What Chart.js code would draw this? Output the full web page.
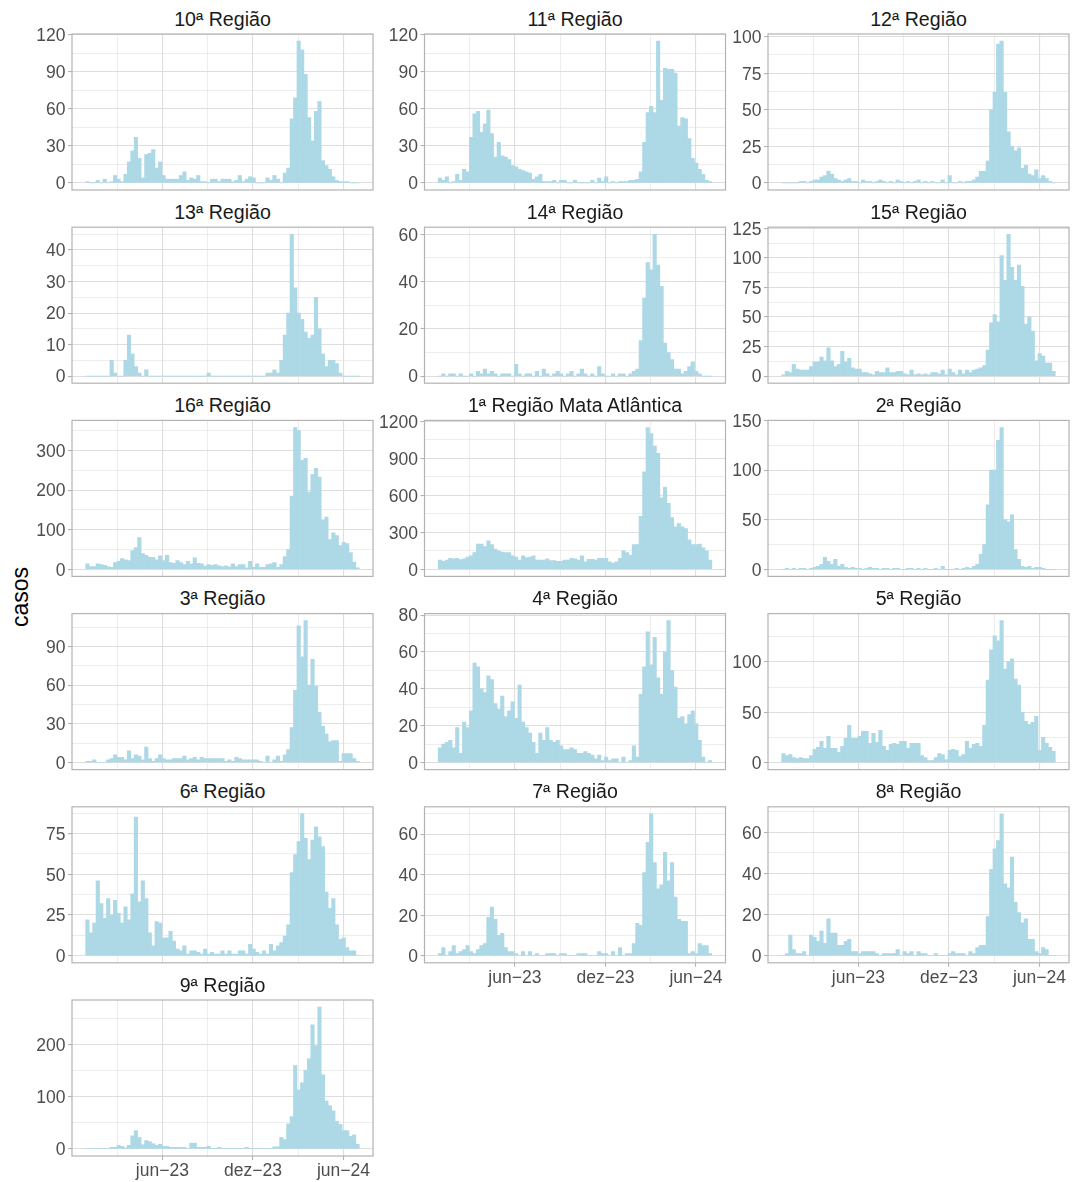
<!DOCTYPE html>
<html>
<head>
<meta charset="utf-8">
<script src="https://cdn.jsdelivr.net/npm/chart.js@4.4.1/dist/chart.umd.min.js"></script>
<style>
body { margin: 0; background: #fff; }
#fig { position: relative; width: 1072px; height: 1182px; background: #fff; font-family: "Liberation Sans", Arial, sans-serif; overflow: hidden; }
.strip { position: absolute; text-align: center; font-size: 19.6px; color: #1a1a1a; white-space: nowrap; }
#fig canvas { position: absolute; }
#ylab { position: absolute; left: 20px; top: 597px; transform: translate(-50%, -50%) rotate(-90deg); font-size: 23px; color: #000; }
</style>
</head>
<body>
<div id="fig"><div id="ylab">casos</div></div>
<script>
// casos semanais por região (79 semanas, a partir de 28/12/2022)
const regioes = ['10ª Região', '11ª Região', '12ª Região', '13ª Região', '14ª Região', '15ª Região',
  '16ª Região', '1ª Região Mata Atlântica', '2ª Região', '3ª Região', '4ª Região', '5ª Região',
  '6ª Região', '7ª Região', '8ª Região', '9ª Região'];

const primeiraSemana = '2022-12-28';
const numSemanas = 79;

const casos10 = [1,0,0,2,0,3,0,1,6,3, 1,7,17,26,37,20,4,23,24,27, 12,17,6,3,3,3,3,6,9,2,
  4,3,6,1,1,0,3,3,1,3, 3,3,1,2,6,1,3,5,4,0, 0,0,4,2,6,3,0,8,12,52,
  69,115,108,88,53,34,58,66,18,14, 11,5,2,1,1,1,0,0,0];
const casos11 = [4,2,5,0,1,7,2,11,9,37, 56,58,41,48,59,40,21,33,22,21, 19,14,13,11,10,9,8,3,5,7,
  1,1,1,2,0,2,2,0,0,2, 0,0,0,0,2,0,4,1,5,0, 1,0,1,1,1,2,2,3,9,33,
  57,62,57,115,67,93,92,92,89,46, 53,52,36,20,16,11,7,2,1];
const casos12 = [0,0,0,0,0,1,1,0,1,2, 2,4,5,8,6,3,2,1,2,3, 1,1,0,2,1,1,0,1,2,1,
  0,1,0,2,1,0,1,0,1,2, 0,1,0,1,0,0,2,0,5,0, 0,1,0,1,1,2,4,8,8,15,
  50,62,95,97,62,35,25,22,24,10, 12,6,5,9,3,5,3,1,0];
const casos13 = [0,0,0,0,0,0,0,5,1,0, 0,5,13,7,3,1,0,2,0,0, 0,0,0,0,0,0,0,0,0,0,
  0,0,0,0,0,1,0,0,0,0, 0,0,0,0,0,0,0,0,0,0, 0,0,1,1,2,1,5,13,20,45,
  28,20,18,14,12,13,25,15,7,3, 5,5,4,1,0,0,0,0,0];
const casos14 = [0,1,0,1,1,0,1,0,0,1, 0,2,1,3,1,2,1,0,1,1, 1,0,5,1,0,1,1,0,2,0,
  3,1,0,1,2,1,0,1,2,0, 1,3,1,0,1,0,4,1,0,0, 1,0,1,1,0,1,2,3,15,33,
  48,45,60,47,38,14,10,7,3,3, 1,2,4,6,2,1,0,0,0];
const casos15 = [1,4,3,10,6,5,5,5,8,12, 12,16,13,24,13,8,10,21,12,15, 7,6,6,3,3,2,1,4,3,3,
  7,3,3,4,4,2,1,5,1,2, 1,2,1,3,3,2,5,1,6,3, 1,5,2,5,3,5,6,7,9,22,
  45,52,46,102,81,120,92,81,94,76, 44,50,38,13,19,17,11,11,4];
const casos16 = [14,7,7,14,12,10,7,5,17,20, 27,24,22,47,55,80,40,35,30,30, 24,34,22,35,17,15,22,17,12,20,
  14,29,15,14,8,12,10,12,9,7, 9,6,14,7,12,12,4,20,5,14, 5,5,12,14,17,5,12,32,50,185,
  358,350,275,280,195,240,255,233,125,132, 75,92,85,60,68,65,42,18,4];
const casos1 = [75,65,75,90,85,90,78,85,100,110, 135,205,205,185,230,200,165,150,140,135, 135,110,100,75,110,95,100,110,75,75,
  75,85,70,70,65,65,75,75,90,85, 75,110,60,80,80,75,90,90,90,60, 50,60,90,150,135,115,200,200,430,790,
  1150,1100,1000,940,580,665,535,420,345,370, 345,330,240,200,200,205,175,150,75];
const casos2 = [0,1,0,1,0,1,1,0,1,2, 3,5,12,8,5,10,3,5,2,1, 2,1,1,0,1,2,1,1,0,1,
  1,0,1,1,0,0,1,1,0,1, 0,1,0,0,1,0,3,0,0,0, 1,0,1,2,1,3,5,15,25,65,
  100,100,130,143,50,48,55,20,10,3, 2,3,1,2,2,1,0,0,0];
const casos3 = [1,1,2,0,0,0,2,3,6,4, 4,2,9,3,6,5,2,12,3,1, 3,6,3,2,2,3,3,3,5,2,
  3,4,2,4,3,3,3,3,3,3, 1,2,1,4,3,2,2,2,2,2, 1,0,5,0,2,5,1,6,10,27,
  56,106,82,110,60,80,59,39,28,22, 16,17,17,1,7,7,7,3,1];
const casos4 = [8,10,11,12,8,19,5,22,19,28, 54,52,40,38,47,45,32,29,36,25, 28,33,24,42,22,19,16,11,5,16,
  12,19,12,11,12,9,7,7,8,7, 5,5,6,5,4,2,4,1,3,1, 2,2,0,3,0,1,9,3,37,52,
  71,53,68,46,37,60,77,50,41,24, 25,21,26,28,21,12,3,0,1];
const casos5 = [9,7,8,5,4,5,4,4,7,13, 15,21,14,26,14,14,10,16,24,37, 24,24,26,31,31,19,29,20,32,16,
  12,18,19,18,21,21,14,19,19,19, 7,5,2,2,5,9,8,3,12,13, 12,6,8,21,14,18,19,16,37,82,
  112,126,121,141,93,100,103,83,77,50, 41,38,40,46,12,25,19,15,11];
const casos6 = [22,14,20,46,32,23,35,25,34,26, 20,30,22,38,85,33,46,35,14,6, 21,20,11,11,15,9,4,3,6,1,
  3,3,2,1,4,1,2,1,1,3, 1,3,1,1,3,3,1,7,4,2, 1,3,1,7,3,6,8,12,19,51,
  62,70,87,72,59,71,79,73,67,39, 29,35,19,10,11,5,3,3,0];
const casos7 = [1,4,0,2,5,1,2,3,5,2, 1,3,5,6,19,24,18,10,11,4, 2,2,1,0,2,0,2,0,1,0,
  0,1,1,1,0,1,1,0,0,0, 1,1,1,0,0,0,2,1,1,0, 2,0,4,0,1,1,6,16,15,41,
  56,70,46,33,35,51,37,46,29,18, 17,17,1,2,1,6,5,5,1];
const casos8 = [0,1,10,3,1,1,2,0,10,9, 7,12,6,18,11,11,5,5,7,8, 2,2,1,2,2,2,2,1,0,1,
  1,1,1,3,0,2,1,2,0,2, 1,1,0,0,1,0,0,0,1,2, 1,1,1,0,2,1,4,5,5,19,
  42,52,56,69,35,33,48,26,21,16, 18,8,8,2,1,4,3,0,0];
const casos9 = [1,1,1,1,1,1,1,3,3,7, 5,2,7,25,35,22,8,16,14,10, 7,9,5,5,3,3,3,3,3,1,
  11,11,3,3,3,5,1,1,3,1, 1,1,1,1,1,1,3,1,1,1, 1,1,1,1,4,4,22,18,48,62,
  160,113,127,151,173,238,198,272,142,92, 83,73,53,47,35,35,24,27,9];

const series = [casos10, casos11, casos12, casos13, casos14, casos15, casos16, casos1,
  casos2, casos3, casos4, casos5, casos6, casos7, casos8, casos9];

// intervalo entre rótulos do eixo y de cada painel
const passoY = [30, 30, 25, 10, 20, 25, 100, 300, 50, 30, 20, 50, 25, 20, 20, 100];

const datasX = ['2023-06-01', '2023-12-01', '2024-06-01'];
const rotulosX = ['jun−23', 'dez−23', 'jun−24'];

// painéis com eixo x visível (último de cada coluna)
const comEixoX = [13, 14, 15];

// geometria
const colLeft = [72, 424.5, 768];
const rowTop0 = 34, rowPitch = 193.2;
const PW = 301, PH = 156;

const fig = document.getElementById('fig');
const dia0 = Date.UTC(2023, 5, 1);
function dias(s) {
  const [a, m, d] = s.split('-').map(Number);
  return (Date.UTC(a, m - 1, d) - dia0) / 864e5;
}

const inicio = dias(primeiraSemana);
const span = numSemanas * 7;
const centros = Array.from({ length: numSemanas }, (_, i) => inicio + 3.5 + 7 * i);
const xMin = inicio - 0.05 * span, xMax = inicio + span + 0.05 * span;

const majX = datasX.map(dias);
const minX = [majX[0] - (majX[1] - majX[0]) / 2];
for (let i = 0; i < majX.length - 1; i++) minX.push((majX[i] + majX[i + 1]) / 2);
minX.push(majX[majX.length - 1] + (majX[majX.length - 1] - majX[majX.length - 2]) / 2);
const ticksX = majX.concat(minX).filter(v => v >= xMin && v <= xMax).sort((a, b) => a - b);

Chart.defaults.font.family = '"Liberation Sans", Arial, sans-serif';

const moldura = {
  id: 'moldura',
  afterDatasetsDraw(ch) {
    const { ctx, chartArea: a } = ch;
    ctx.save();
    ctx.strokeStyle = '#B3B3B3';
    ctx.lineWidth = 1.2;
    ctx.strokeRect(a.left, a.top, a.right - a.left, a.bottom - a.top);
    ctx.restore();
  }
};

function painel(idx) {
  const col = idx % 3, row = Math.floor(idx / 3);
  const pl = colLeft[col], pt = rowTop0 + row * rowPitch;
  const baixo = comEixoX.includes(idx);

  // título do painel
  const s = document.createElement('div');
  s.className = 'strip';
  s.textContent = regioes[idx];
  s.style.left = pl + 'px';
  s.style.width = PW + 'px';
  s.style.top = (pt - 28.5) + 'px';
  s.style.height = '27px';
  s.style.lineHeight = '27px';
  fig.appendChild(s);

  const cl = Math.floor(pl) - 64, ct = Math.floor(pt) - 12;
  const ax = pl - cl, padTop = pt - ct;
  const xh = baixo ? 28 : 0;
  const w = Math.ceil(ax + PW + 4), h = Math.ceil(padTop + PH + xh + 3);
  const padRight = w - ax - PW, padBottom = h - xh - padTop - PH;

  const cv = document.createElement('canvas');
  cv.width = w; cv.height = h;
  cv.style.left = cl + 'px'; cv.style.top = ct + 'px';
  cv.style.width = w + 'px'; cv.style.height = h + 'px';
  fig.appendChild(cv);

  const vals = series[idx];
  const mx = Math.max(...vals);
  const yMin = -0.05 * mx, yMax = 1.05 * mx;
  const passo = passoY[idx];
  const ticksY = [];
  for (let v = 0; v <= yMax; v += passo / 2) ticksY.push(v);
  const majY = v => Math.abs(v / passo - Math.round(v / passo)) < 1e-6;
  const majXv = v => majX.includes(v);

  new Chart(cv, {
    type: 'bar',
    data: {
      datasets: [{
        data: vals.map((v, i) => ({ x: centros[i], y: v })),
        backgroundColor: '#ADD8E6',
        borderWidth: 0,
        barPercentage: 1,
        categoryPercentage: 1
      }]
    },
    options: {
      responsive: false,
      animation: false,
      events: [],
      layout: { padding: { top: padTop, left: 0, right: padRight, bottom: padBottom } },
      plugins: { legend: { display: false }, tooltip: { enabled: false } },
      scales: {
        x: {
          type: 'linear', min: xMin, max: xMax, offset: false,
          afterBuildTicks: a => { a.ticks = ticksX.map(v => ({ value: v })); },
          afterFit: sc => { sc.height = xh; sc.paddingLeft = 0; sc.paddingRight = 0; },
          ticks: {
            display: baixo, autoSkip: false, maxRotation: 0, padding: 0.5,
            color: '#4D4D4D', font: { size: 17.5 },
            callback: v => { const k = majX.indexOf(v); return k >= 0 ? rotulosX[k] : ''; }
          },
          grid: {
            offset: false, drawTicks: baixo, tickLength: 4,
            color: '#DEDEDE',
            lineWidth: c => (c.tick && majXv(c.tick.value)) ? 1.1 : 0.55,
            tickColor: c => (c.tick && majXv(c.tick.value)) ? '#B3B3B3' : 'rgba(0,0,0,0)',
            tickWidth: 1.1
          },
          border: { display: false }
        },
        y: {
          type: 'linear', min: yMin, max: yMax,
          afterBuildTicks: a => { a.ticks = ticksY.map(v => ({ value: v })); },
          afterFit: sc => { sc.width = ax; sc.paddingTop = 0; sc.paddingBottom = 0; },
          ticks: {
            autoSkip: false, padding: 2.5, labelOffset: 1.5, color: '#4D4D4D', font: { size: 17.5 },
            callback: v => majY(v) ? String(Math.round(v)) : ''
          },
          grid: {
            drawTicks: true, tickLength: 4,
            color: '#DEDEDE',
            lineWidth: c => (c.tick && majY(c.tick.value)) ? 1.1 : 0.55,
            tickColor: c => (c.tick && majY(c.tick.value)) ? '#B3B3B3' : 'rgba(0,0,0,0)',
            tickWidth: 1.1
          },
          border: { display: false }
        }
      }
    },
    plugins: [moldura]
  });
}

for (let i = 0; i < regioes.length; i++) painel(i);
</script>
</body>
</html>
